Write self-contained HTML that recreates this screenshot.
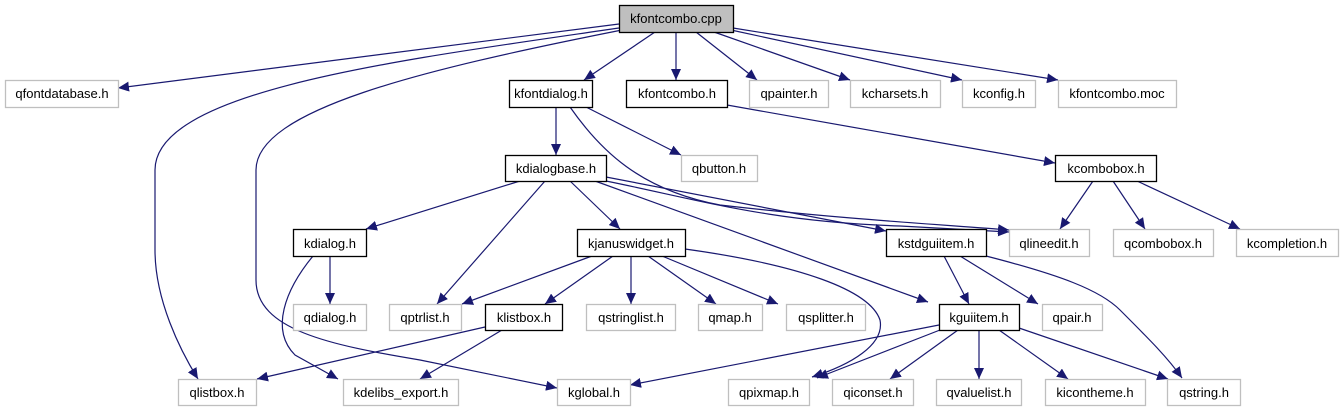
<!DOCTYPE html>
<html><head><meta charset="utf-8"><style>
html,body{margin:0;padding:0;background:#fff;width:1343px;height:411px;overflow:hidden}
svg text{font-family:"Liberation Sans",Arial,sans-serif;font-size:13px;fill:#000}
</style></head><body>
<svg width="1343" height="411" xmlns="http://www.w3.org/2000/svg">
<defs><marker id="a" markerUnits="userSpaceOnUse" markerWidth="12" markerHeight="10" refX="11" refY="5" orient="auto"><path d="M0,0 L11,5 L0,10 z" fill="#191970"/></marker></defs>
<g fill="none" stroke="#191970" stroke-width="1.2" marker-end="url(#a)">
<path d="M619,24 L118,88"/>
<path d="M619,28 C400,60 155,90 155,170 L155,250 C155,300 180,350 198,379"/>
<path d="M622,30 C420,70 256,110 256,170 L256,280 C256,330 330,345 420,360 L557,388"/>
<path d="M655,32 L584,80"/>
<path d="M676,32 L676,80"/>
<path d="M696,32 L757,80"/>
<path d="M714,32 L850,80"/>
<path d="M731,30 L962,80"/>
<path d="M733,28 L1058,80"/>
<path d="M556,107 L556,155"/>
<path d="M586,107 L681,155"/>
<path d="M570,107 C600,150 640,190 720,205 C850,220 950,225 1009,230"/>
<path d="M727,105 L1055,163"/>
<path d="M520,181 L366,229"/>
<path d="M545,181 L437,304"/>
<path d="M570,181 L620,229"/>
<path d="M595,181 L928,302"/>
<path d="M606,177 L886,231"/>
<path d="M606,181 C700,200 770,222 900,226 L1009,232"/>
<path d="M1093,181 L1060,229"/>
<path d="M1113,181 L1145,229"/>
<path d="M1137,181 L1240,229"/>
<path d="M330,256 L330,304"/>
<path d="M313,256 C285,290 270,330 295,355 L338,379"/>
<path d="M592,256 L462,304"/>
<path d="M613,256 L545,304"/>
<path d="M631,256 L631,304"/>
<path d="M648,256 L716,304"/>
<path d="M662,256 L778,304"/>
<path d="M685,249 C800,265 870,290 880,320 C885,345 850,365 812,377"/>
<path d="M944,256 L969,304"/>
<path d="M960,256 L1038,304"/>
<path d="M986,256 C1060,275 1100,290 1120,310 C1150,340 1168,358 1182,378"/>
<path d="M485,327 L257,379"/>
<path d="M502,330 L420,379"/>
<path d="M939,325 L630,385"/>
<path d="M940,330 L817,378"/>
<path d="M958,330 L890,379"/>
<path d="M979,330 L979,379"/>
<path d="M999,330 L1068,379"/>
<path d="M1019,328 L1168,379"/>
</g>
<g stroke-width="1.3">
<rect x="619.5" y="5.5" width="114" height="27" fill="#bfbfbf" stroke="#000"/>
<g fill="#fff" stroke="#bfbfbf">
<rect x="5.5" y="80.5" width="113" height="27"/>
<rect x="749.5" y="80.5" width="79" height="27"/>
<rect x="850.5" y="80.5" width="90" height="27"/>
<rect x="962.5" y="80.5" width="73" height="27"/>
<rect x="1058.5" y="80.5" width="118" height="27"/>
<rect x="681.5" y="155.5" width="76" height="26"/>
<rect x="1009.5" y="229.5" width="80" height="27"/>
<rect x="1113.5" y="229.5" width="100" height="27"/>
<rect x="1236.5" y="229.5" width="102" height="27"/>
<rect x="293.5" y="304.5" width="73" height="26"/>
<rect x="389.5" y="304.5" width="72" height="26"/>
<rect x="586.5" y="304.5" width="89" height="26"/>
<rect x="698.5" y="304.5" width="64" height="26"/>
<rect x="786.5" y="304.5" width="79" height="26"/>
<rect x="1042.5" y="304.5" width="60" height="26"/>
<rect x="178.5" y="379.5" width="78" height="26"/>
<rect x="343.5" y="379.5" width="115" height="26"/>
<rect x="557.5" y="379.5" width="73" height="26"/>
<rect x="728.5" y="379.5" width="81" height="26"/>
<rect x="832.5" y="379.5" width="81" height="26"/>
<rect x="936.5" y="379.5" width="85" height="26"/>
<rect x="1045.5" y="379.5" width="100" height="26"/>
<rect x="1167.5" y="379.5" width="73" height="26"/>
</g>
<g fill="#fff" stroke="#000">
<rect x="509.5" y="80.5" width="83" height="27"/>
<rect x="626.5" y="80.5" width="101" height="27"/>
<rect x="505.5" y="155.5" width="101" height="26"/>
<rect x="1055.5" y="155.5" width="101" height="26"/>
<rect x="293.5" y="229.5" width="73" height="27"/>
<rect x="577.5" y="229.5" width="108" height="27"/>
<rect x="886.5" y="229.5" width="100" height="27"/>
<rect x="485.5" y="304.5" width="77" height="26"/>
<rect x="939.5" y="304.5" width="80" height="26"/>
</g>
</g>
<g text-anchor="middle">
<text x="676" y="23">kfontcombo.cpp</text>
<text x="62" y="98">qfontdatabase.h</text>
<text x="551" y="98">kfontdialog.h</text>
<text x="677" y="98">kfontcombo.h</text>
<text x="789" y="98">qpainter.h</text>
<text x="895" y="98">kcharsets.h</text>
<text x="999" y="98">kconfig.h</text>
<text x="1117" y="98">kfontcombo.moc</text>
<text x="556" y="173">kdialogbase.h</text>
<text x="719" y="173">qbutton.h</text>
<text x="1106" y="173">kcombobox.h</text>
<text x="330" y="248">kdialog.h</text>
<text x="631" y="248">kjanuswidget.h</text>
<text x="936" y="248">kstdguiitem.h</text>
<text x="1049" y="248">qlineedit.h</text>
<text x="1163" y="248">qcombobox.h</text>
<text x="1287" y="248">kcompletion.h</text>
<text x="330" y="322">qdialog.h</text>
<text x="425" y="322">qptrlist.h</text>
<text x="524" y="322">klistbox.h</text>
<text x="631" y="322">qstringlist.h</text>
<text x="730" y="322">qmap.h</text>
<text x="826" y="322">qsplitter.h</text>
<text x="979" y="322">kguiitem.h</text>
<text x="1072" y="322">qpair.h</text>
<text x="217" y="397">qlistbox.h</text>
<text x="401" y="397">kdelibs_export.h</text>
<text x="594" y="397">kglobal.h</text>
<text x="769" y="397">qpixmap.h</text>
<text x="873" y="397">qiconset.h</text>
<text x="979" y="397">qvaluelist.h</text>
<text x="1095" y="397">kicontheme.h</text>
<text x="1204" y="397">qstring.h</text>
</g>
</svg>
</body></html>
